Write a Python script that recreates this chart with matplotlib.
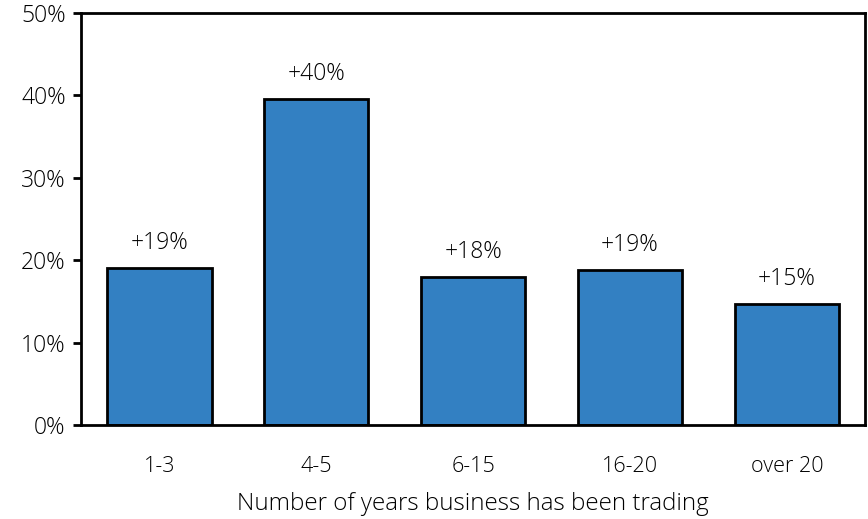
import matplotlib
matplotlib.use("Agg")
import matplotlib.pyplot as plt
from matplotlib.ticker import FuncFormatter

categories = ["1-3", "4-5", "6-15", "16-20", "over 20"]
values = [19.0, 39.6, 18.0, 18.8, 14.7]
y_ticks = [0, 10, 20, 30, 40, 50]

plt.rcParams["font.family"] = ["Open Sans", "DejaVu Sans"]
plt.rcParams["font.weight"] = "light"
plt.rcParams["axes.labelweight"] = "light"

fig = plt.figure(figsize=(8.68, 5.19), dpi=100)
ax = fig.add_axes([0.0933, 0.181, 0.9035, 0.794])

x = range(len(categories))
ax.bar(x, values, width=0.665, color="#3380c2", edgecolor="black", linewidth=2, zorder=2)

for xi, v in zip(x, values):
    ax.text(xi, v + 1.6, f"+{v:.0f}%", ha="center", va="bottom", fontsize=16.5)

ax.set_xlim(-0.5, len(categories) - 0.5)
ax.set_ylim(0, 50)
ax.set_yticks(y_ticks)
ax.yaxis.set_major_formatter(FuncFormatter(lambda v, p: f"{v:.0f}%"))
ax.set_xticks(list(x))
ax.set_xticklabels(categories)
ax.tick_params(axis="x", length=0, pad=22, labelsize=15.5)
ax.tick_params(axis="y", length=6, width=2, labelsize=16.5, pad=5)
for s in ax.spines.values():
    s.set_linewidth(2)
ax.set_xlabel("Number of years business has been trading", fontsize=17.4, labelpad=11)

fig.savefig("out.png", dpi=100)
